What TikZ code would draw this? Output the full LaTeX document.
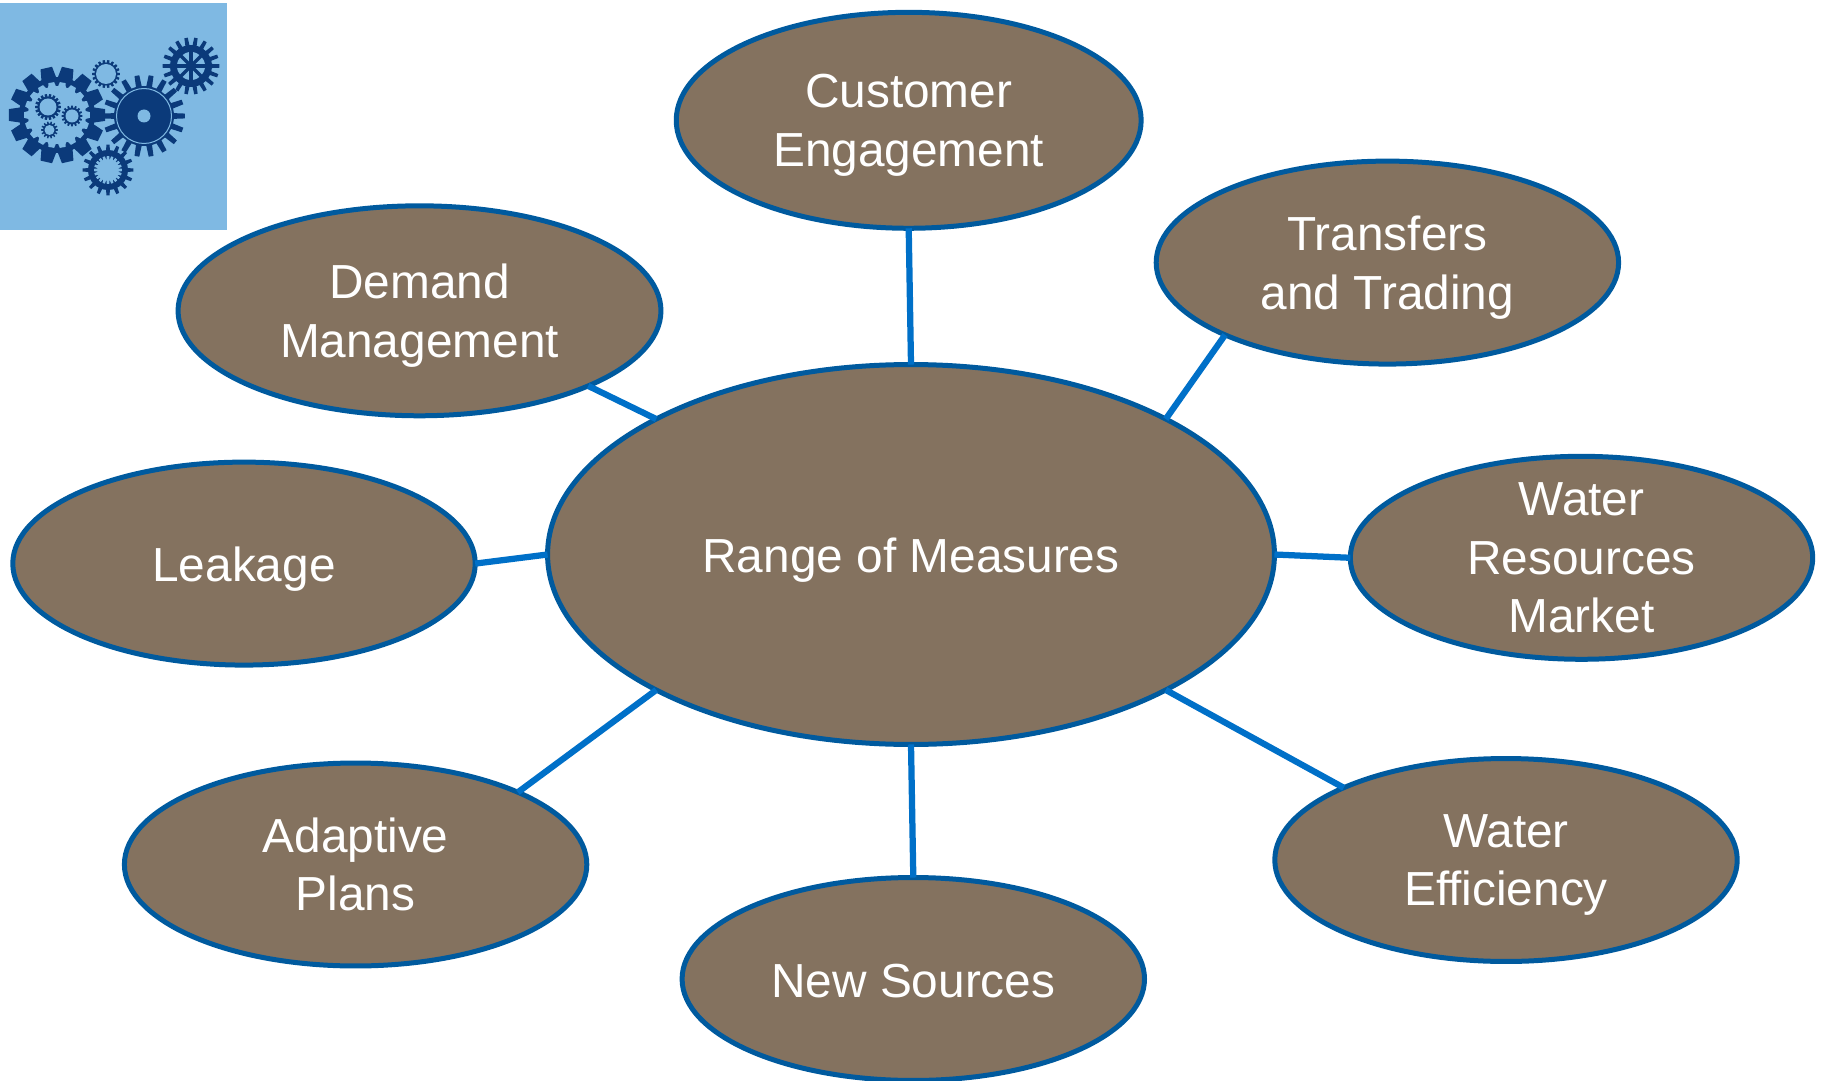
\documentclass[tikz,border=0pt]{standalone}
\usepackage{fontspec}
\setmainfont{Liberation Sans}
\usetikzlibrary{shapes.geometric}
\definecolor{iconbg}{RGB}{127,185,227}
\definecolor{gearblue}{RGB}{11,58,122}
\definecolor{rimblue}{RGB}{0,90,158}
\definecolor{linkblue}{RGB}{0,112,200}
\definecolor{measurebrown}{RGB}{132,114,95}
% x, y, teeth, root radius, outer radius, half angle of a tooth at its tip, colour
\newcommand{\gearwheel}[7]{%
  \begin{scope}[shift={(#1,#2)}]
    \fill[#7] (0,0) circle (#4);
    \pgfmathsetmacro{\gearstep}{360/#3}
    \foreach \i in {1,...,#3} {
      \pgfmathsetmacro{\a}{\i*\gearstep}
      \fill[#7] ({\a-1.7*#6}:#4-1) -- ({\a-#6}:#5) -- ({\a+#6}:#5) -- ({\a+1.7*#6}:#4-1) -- cycle;
    }
  \end{scope}
}
\tikzset{
  measure/.style={ellipse, draw=rimblue, fill=measurebrown, line width=0.1cm,
    inner xsep=0pt, inner ysep=-0.7cm, outer sep=0pt, text=white, align=center,
    font=\fontsize{27.2}{33.2}\selectfont, text depth=0pt,
    execute at begin node={\rule{0pt}{20.9pt}},
    minimum width=9.25cm, minimum height=4.06cm},
  link/.style={linkblue, line width=0.125cm}
}
\begin{document}
\begin{tikzpicture}[x=0.02cm,y=-0.02cm]
  \useasboundingbox (0,0) rectangle (1822,1081);

  % icon
  \fill[iconbg] (0,3) rectangle (227,230);
  \gearwheel{57}{115}{14}{38}{48.5}{7}{gearblue}
  \gearwheel{57}{115}{18}{29}{33}{5}{iconbg}
  \gearwheel{48}{107}{18}{10.5}{13}{5}{gearblue}
  \fill[iconbg] (48,107) circle (8.5);
  \gearwheel{72}{116}{16}{8.5}{10.5}{5}{gearblue}
  \fill[iconbg] (72,116) circle (6.5);
  \gearwheel{49.5}{130}{14}{6.5}{8.5}{5}{gearblue}
  \fill[iconbg] (49.5,130) circle (5);
  \gearwheel{106}{74}{18}{11.5}{14}{4.5}{gearblue}
  \fill[iconbg] (106,74) circle (10);
  \gearwheel{144}{116}{18}{30}{41}{3.4}{gearblue}
  \draw[iconbg,line width=0.02cm] (144,116) circle (27.5);
  \fill[iconbg] (144,116) circle (6.5);
  \gearwheel{191}{66}{18}{21}{28.5}{3.5}{gearblue}
  \fill[iconbg] (191,66) circle (14);
  \foreach \a in {0,45,...,315}
    \draw[gearblue,line width=0.07cm] (191,66) -- +(\a:14.5);
  \fill[gearblue] (191,66) circle (3.5);
  \gearwheel{108}{170}{16}{20}{25.5}{3.5}{gearblue}
  \gearwheel{108}{170}{20}{11}{14}{5}{iconbg}

  % ellipses
  \node[measure, minimum width=14.54cm, minimum height=7.6cm] (range) at (911,554.5) {Range of Measures};
  \node[measure, minimum width=9.3cm, minimum height=4.32cm] (customer) at (908.7,120.3) {Customer\\Engagement};
  \node[measure] (transfers) at (1387.4,262.6) {Transfers\\and Trading};
  \node[measure] (resources) at (1581.5,557.8) {Water\\Resources\\Market};
  \node[measure] (efficiency) at (1506,860) {Water\\Efficiency};
  \node[measure] (sources) at (913.3,979) {New Sources};
  \node[measure] (adaptive) at (355.6,864.5) {Adaptive\\Plans};
  \node[measure] (leakage) at (244,563.6) {Leakage};
  \node[measure, minimum width=9.66cm, minimum height=4.2cm] (demand) at (419.5,310.8) {Demand\\Management};

  % links
  \draw[link] (customer.south) -- (range.north);
  \draw[link] (transfers.204.3) -- (range.28.5);
  \draw[link] (resources.west) -- (range.east);
  \draw[link] (efficiency.156.2) -- (range.-28.5);
  \draw[link] (sources.north) -- (range.south);
  \draw[link] (adaptive.24.3) -- (range.208.5);
  \draw[link] (leakage.east) -- (range.west);
  \draw[link] (demand.-24) -- (range.152.5);
\end{tikzpicture}
\end{document}
